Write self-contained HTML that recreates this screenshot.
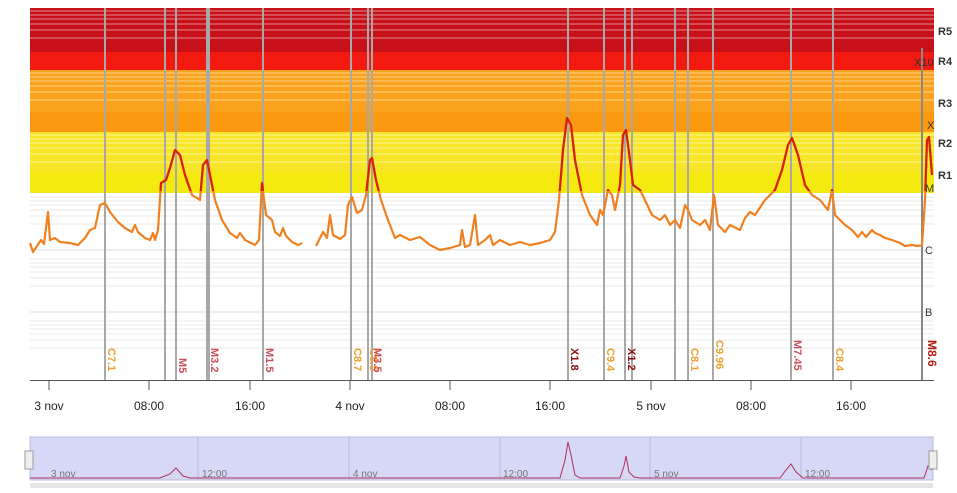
<!DOCTYPE html><html><head><style>body{margin:0;background:#fff;width:957px;height:488px;overflow:hidden;font-family:"Liberation Sans",sans-serif}</style></head><body>
<svg width="957" height="488" xmlns="http://www.w3.org/2000/svg" font-family="Liberation Sans, sans-serif">
<defs><clipPath id="top"><rect x="0" y="0" width="957" height="191"/></clipPath>
<polyline id="c1" points="30,243 33,252 37,246 41,240 44,244 48,212 50,240 55,238 60,242 70,243 78,245 85,238 90,230 95,228 100,205 105,203 110,212 118,222 125,228 132,232 135,225 138,232 145,238 150,240 153,233 155,240 158,230 161,183 166,180 170,168 175,150 180,155 185,175 192,195 200,200 203,165 207,160 211,180 215,200 222,220 230,233 237,238 240,233 245,240 255,245 259,240 262,183 266,215 272,220 275,232 280,236 283,228 286,236 292,242 298,245 302,243"/>
<polyline id="c2" points="316,246 320,238 323,232 327,238 330,215 333,235 340,239 345,235 348,205 352,197 357,213 362,210 366,195 370,160 372,158 376,180 381,200 388,220 395,238 400,235 410,240 420,237 430,245 440,250 450,248 460,245 462,230 465,247 470,245 475,215 478,245 485,240 490,235 493,245 500,240 510,245 520,242 530,245 540,243 550,240 555,232 559,200 563,150 567,118 571,125 575,160 582,195 590,215 597,225 600,210 603,215 608,190 612,195 615,210 620,185 623,135 626,130 630,160 633,185 640,190 645,200 652,215 660,220 665,215 670,225 675,220 680,228 685,205 688,210 692,220 700,225 705,220 710,230 714,195 718,225 725,232 730,225 740,230 745,218 750,212 755,215 765,200 775,190 782,170 788,145 792,138 798,155 805,185 812,195 820,200 828,210 832,190 835,215 845,225 852,230 858,237 862,232 866,237 872,230 875,233 880,235 885,238 892,240 900,243 905,246 912,245 918,246 922,245 925,200 927,140 929,137 932,175"/>
</defs>
<!-- bands -->
<rect x="30" y="8" width="904" height="44" fill="#c8101a"/>
<rect x="30" y="52" width="904" height="18" fill="#f21a10"/>
<rect x="30" y="70" width="904" height="42" fill="#fba21c"/>
<rect x="30" y="112" width="904" height="20" fill="#fb9a10"/>
<rect x="30" y="132" width="904" height="40" fill="#f7e528"/>
<rect x="30" y="172" width="904" height="21" fill="#f5ea10"/>
<g stroke="#fff" stroke-opacity="0.5" stroke-width="1">
<line x1="30" x2="934" y1="11" y2="11"/><line x1="30" x2="934" y1="15" y2="15"/><line x1="30" x2="934" y1="19" y2="19"/><line x1="30" x2="934" y1="24" y2="24"/><line x1="30" x2="934" y1="30" y2="30"/><line x1="30" x2="934" y1="38" y2="38"/>
<line x1="30" x2="934" y1="73" y2="73"/><line x1="30" x2="934" y1="77" y2="77"/><line x1="30" x2="934" y1="81" y2="81"/><line x1="30" x2="934" y1="86" y2="86"/><line x1="30" x2="934" y1="92" y2="92"/><line x1="30" x2="934" y1="100" y2="100"/>
<line x1="30" x2="934" y1="135" y2="135"/><line x1="30" x2="934" y1="139" y2="139"/><line x1="30" x2="934" y1="143" y2="143"/><line x1="30" x2="934" y1="148" y2="148"/><line x1="30" x2="934" y1="154" y2="154"/><line x1="30" x2="934" y1="162" y2="162"/>
</g>
<g stroke="#e8e8e8" stroke-width="1">
<line x1="30" x2="934" y1="197" y2="197"/><line x1="30" x2="934" y1="201" y2="201"/><line x1="30" x2="934" y1="205" y2="205"/><line x1="30" x2="934" y1="210" y2="210"/><line x1="30" x2="934" y1="216" y2="216"/><line x1="30" x2="934" y1="224" y2="224"/><line x1="30" x2="934" y1="250" y2="250" stroke="#ddd"/>
<line x1="30" x2="934" y1="259" y2="259"/><line x1="30" x2="934" y1="263" y2="263"/><line x1="30" x2="934" y1="267" y2="267"/><line x1="30" x2="934" y1="272" y2="272"/><line x1="30" x2="934" y1="278" y2="278"/><line x1="30" x2="934" y1="286" y2="286"/><line x1="30" x2="934" y1="312" y2="312" stroke="#ddd"/>
<line x1="30" x2="934" y1="321" y2="321"/><line x1="30" x2="934" y1="325" y2="325"/><line x1="30" x2="934" y1="329" y2="329"/><line x1="30" x2="934" y1="334" y2="334"/><line x1="30" x2="934" y1="340" y2="340"/><line x1="30" x2="934" y1="348" y2="348"/>
</g>
<!-- flare lines -->
<g stroke="#a8a8a8" stroke-width="2">
<line x1="105" x2="105" y1="8" y2="380"/><line x1="165" x2="165" y1="8" y2="380"/><line x1="176" x2="176" y1="8" y2="380"/><line x1="207" x2="207" y1="8" y2="380"/><line x1="209" x2="209" y1="8" y2="380"/><line x1="263" x2="263" y1="8" y2="380"/><line x1="351" x2="351" y1="8" y2="380"/><line x1="368" x2="368" y1="8" y2="380"/><line x1="372" x2="372" y1="8" y2="380"/><line x1="568" x2="568" y1="8" y2="380"/><line x1="604" x2="604" y1="8" y2="380"/><line x1="625" x2="625" y1="8" y2="380"/><line x1="632" x2="632" y1="8" y2="380"/><line x1="675" x2="675" y1="8" y2="380"/><line x1="688" x2="688" y1="8" y2="380"/><line x1="713" x2="713" y1="8" y2="380"/><line x1="791" x2="791" y1="8" y2="380"/><line x1="833" x2="833" y1="8" y2="380"/><line x1="922" x2="922" y1="48" y2="380" stroke="#888"/>
</g>
<!-- curve -->
<g fill="none" stroke-width="2.2" stroke-linejoin="round">
<g stroke="#f08020"><use href="#c1"/><use href="#c2"/></g>
<g clip-path="url(#top)" stroke="#d8200a"><use href="#c1"/><use href="#c2"/></g>
</g>
<!-- right labels -->
<g font-size="11" fill="#333" font-weight="bold">
<text x="938" y="35">R5</text><text x="938" y="65">R4</text><text x="938" y="107">R3</text><text x="938" y="147">R2</text><text x="938" y="179">R1</text>
</g>
<g font-size="11" fill="#333">
<text x="914" y="66">X10</text><text x="927" y="129">X</text><text x="925" y="192">M</text><text x="925" y="254">C</text><text x="925" y="316">B</text>
</g>
<!-- flare labels -->
<g font-size="11" font-weight="bold">
<text transform="translate(108,348) rotate(90)" fill="#eaa030">C7.1</text>
<text transform="translate(179,358) rotate(90)" fill="#c8505a">M5</text>
<text transform="translate(211,348) rotate(90)" fill="#c8505a">M3.2</text>
<text transform="translate(266,348) rotate(90)" fill="#c8505a">M1.5</text>
<text transform="translate(354,348) rotate(90)" fill="#eaa030">C8.7</text>
<text transform="translate(370,348) rotate(90)" fill="#eaa030">C8.5</text>
<text transform="translate(374,348) rotate(90)" fill="#c8505a">M3.5</text>
<text transform="translate(571,348) rotate(90)" fill="#8a1010">X1.8</text>
<text transform="translate(607,348) rotate(90)" fill="#eaa030">C9.4</text>
<text transform="translate(628,348) rotate(90)" fill="#8a1010">X1.2</text>
<text transform="translate(691,348) rotate(90)" fill="#eaa030">C8.1</text>
<text transform="translate(716,340) rotate(90)" fill="#eaa030">C9.96</text>
<text transform="translate(794,340) rotate(90)" fill="#c8505a">M7.45</text>
<text transform="translate(836,348) rotate(90)" fill="#eaa030">C8.4</text>
<text transform="translate(928,340) rotate(90)" fill="#b02010" font-size="12">M8.6</text>
</g>
<!-- x axis -->
<line x1="30" x2="934" y1="380.5" y2="380.5" stroke="#555"/>
<g stroke="#555"><line x1="49" x2="49" y1="380" y2="390"/><line x1="149" x2="149" y1="380" y2="390"/><line x1="250" x2="250" y1="380" y2="390"/><line x1="350" x2="350" y1="380" y2="390"/><line x1="450" x2="450" y1="380" y2="390"/><line x1="550" x2="550" y1="380" y2="390"/><line x1="651" x2="651" y1="380" y2="390"/><line x1="751" x2="751" y1="380" y2="390"/><line x1="851" x2="851" y1="380" y2="390"/></g>
<g font-size="12" fill="#222" text-anchor="middle">
<text x="49" y="410">3 nov</text><text x="149" y="410">08:00</text><text x="250" y="410">16:00</text><text x="350" y="410">4 nov</text><text x="450" y="410">08:00</text><text x="550" y="410">16:00</text><text x="651" y="410">5 nov</text><text x="751" y="410">08:00</text><text x="851" y="410">16:00</text>
</g>
<!-- navigator -->
<rect x="30" y="437" width="903" height="43" fill="#d6d8f6" stroke="#b8bad8"/>
<g stroke="#b8bad8"><line x1="198" x2="198" y1="437" y2="480"/><line x1="349" x2="349" y1="437" y2="480"/><line x1="500" x2="500" y1="437" y2="480"/><line x1="650" x2="650" y1="437" y2="480"/><line x1="801" x2="801" y1="437" y2="480"/></g>
<g font-size="10" fill="#777"><text x="51" y="477">3 nov</text><text x="202" y="477">12:00</text><text x="353" y="477">4 nov</text><text x="503" y="477">12:00</text><text x="654" y="477">5 nov</text><text x="805" y="477">12:00</text></g>
<polyline fill="none" stroke="#b03060" stroke-width="1" points="30,478 160,478 170,474 176,468 183,476 190,478 560,478 565,460 568,442 571,455 575,475 580,478 620,478 624,466 626,456 629,472 634,477 640,478 780,478 786,470 791,464 796,472 803,478 924,478 928,466 932,470"/>
<rect x="25" y="451" width="8" height="18" fill="#eee" stroke="#999"/>
<rect x="929" y="451" width="8" height="18" fill="#eee" stroke="#999"/>
<rect x="30" y="483" width="903" height="5" fill="#e4e4e4"/>
</svg>
</body></html>
